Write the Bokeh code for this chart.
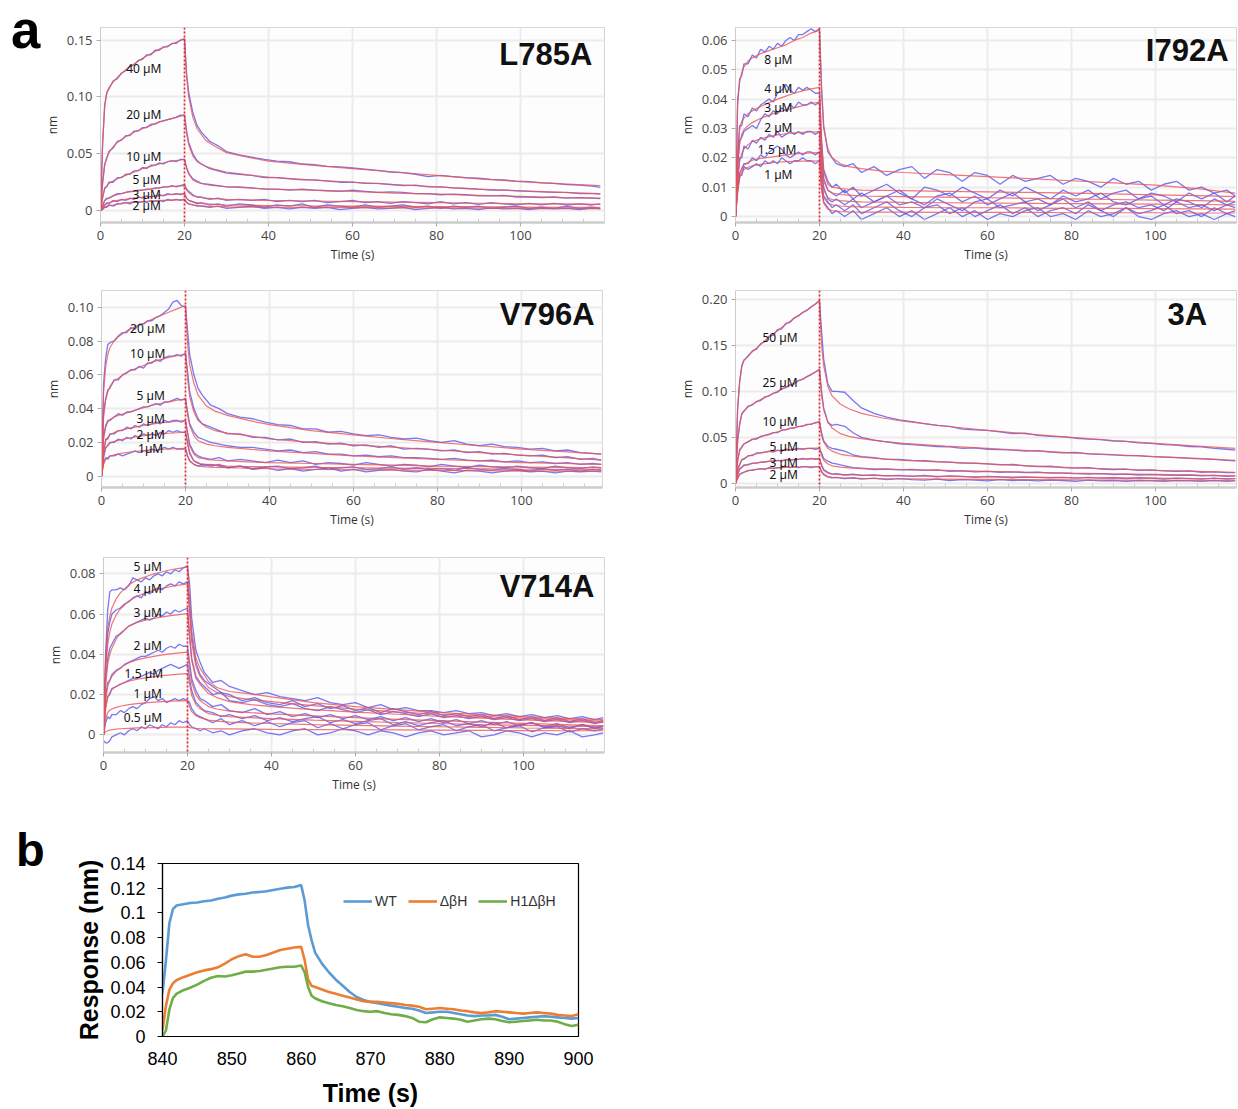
from bokeh.plotting import figure
from bokeh.layouts import column, row
from bokeh.models import Label, Span, FixedTicker, Legend, LegendItem, Range1d, Div
from bokeh.embed import file_html
from bokeh.resources import INLINE

# ---------------- time grids (s) ----------------
# fitted curves (red) sampling times
TR = [0, 0.5, 1, 1.5, 2, 3, 4, 6, 8, 10, 12, 14, 16, 18, 20,
      20.5, 21, 22, 23, 25, 27, 30, 35, 40, 50, 60, 70, 80, 90, 100, 110, 119]
# raw sensorgram (blue) sampling times
TB = [0, 0.5, 1, 1.5, 2, 3, 4, 5, 6, 7, 8, 9, 10, 11, 12, 13, 14, 15, 16, 17, 18, 19, 20,
      20.5, 21, 22, 23, 24, 26, 28, 30,
      33, 36, 39, 42, 45, 48, 51, 54, 57, 60,
      63, 66, 69, 72, 75, 78, 81, 84, 87, 90,
      93, 96, 99, 102, 105, 108, 111, 114, 117, 119]

# All responses below are in units of 0.001 nm
# ---------------- L785A ----------------
L785A_conc = ["40 µM", "20 µM", "10 µM", "5 µM", "3 µM", "2 µM"]
L785A_fit = [
    [0, 60, 92, 103, 108, 113, 117, 124, 129, 134, 138, 142, 145, 148, 151,
     118, 100, 82, 72, 62, 57, 51, 47, 43.5, 40, 37, 34, 31, 28, 25.5, 23.5, 22],
    [0, 25, 40, 47, 51, 56, 60, 65, 69, 72, 75, 78, 80, 82, 84,
     68, 58, 48, 43, 39, 36.5, 34, 31.5, 29.5, 27, 25, 23, 21, 19, 17.5, 16, 15],
    [0, 12, 19, 22, 24, 26, 28, 31, 34, 37, 39, 41, 43, 44, 45,
     37, 32, 27, 25, 23, 22, 21, 20, 19, 18, 17, 15.5, 14.5, 13.5, 12.5, 11.5, 11],
    [0, 5, 9, 10, 11, 13, 14, 16, 17, 18, 19, 20, 21, 21.5, 22,
     18, 16, 13, 12, 11, 10.5, 10, 9.5, 9, 8.5, 8, 7.5, 7, 6.5, 6, 6, 5.5],
    [0, 3, 5, 6, 7, 8, 9, 10, 11, 12, 12.5, 13, 14, 14.5, 15,
     11, 9, 7.5, 7, 6, 5.5, 5, 4.8, 4.5, 4.2, 4, 3.8, 3.6, 3.4, 3.2, 3, 3],
    [0, 2, 3, 4, 4.5, 5, 6, 7, 7.5, 8, 8.5, 9, 9, 9.5, 10,
     7.5, 6, 5, 4.5, 4, 3.7, 3.4, 3.2, 3, 2.8, 2.6, 2.5, 2.4, 2.2, 2.1, 2, 2],
]
L785A_raw = [
    [0, 58, 93, 104, 107, 114, 116, 121, 123, 127, 128, 132, 133, 137, 137, 141, 141, 144, 144, 147, 147, 150, 151,
     120, 104, 86, 75, 69, 61, 57, 52,
     49, 47, 45, 43.5, 43, 41, 40.5, 39, 38.5, 37.5,
     36.5, 35.5, 34, 33.5, 32, 30, 31, 30, 29, 28.5,
     27.5, 27, 26, 25.5, 24.5, 24, 23, 22.5, 21.5, 20.5],
    [0, 24, 41, 46, 52, 55, 61, 62, 66, 66, 70, 70, 73, 73, 76, 76, 78, 79, 80, 81, 82, 84, 84,
     70, 60, 50, 44, 41, 37, 35, 33,
     32, 31, 29, 29, 28, 27, 27, 26, 25, 25,
     24, 24, 23, 22, 22.5, 21, 21, 20, 19.5, 19,
     18, 18, 17.5, 17, 16.5, 16, 16, 15, 15, 14.5],
    [0, 11, 20, 21, 25, 25, 29, 29, 32, 32, 35, 35, 38, 37, 40, 40, 42, 41, 43, 44, 43, 45, 45,
     38, 33, 28, 26, 24, 23, 22, 21,
     21, 20, 19, 19, 18, 19, 18, 17.5, 17, 18,
     17, 16, 16.5, 16, 15, 15, 14, 14.5, 14, 13,
     13, 13.5, 12, 12, 11.5, 12, 11, 11.5, 11, 10.5],
    [0, 4, 9, 11, 11, 13, 15, 15, 16, 17, 17, 18, 18, 19, 19, 20, 20, 21, 21, 22, 21, 22, 23,
     19, 17, 14, 12, 12, 10, 11, 9,
     10, 9, 10, 8, 9, 8, 9, 7, 8, 9,
     7, 8, 6.5, 8, 7, 6, 8, 6, 7, 5.5,
     7, 6, 5, 6.5, 5, 6.5, 5, 6, 5, 6],
    [0, 2, 5, 7, 6, 9, 8, 10, 9, 11, 10, 12, 11, 13, 12, 13, 14, 13, 15, 14, 15, 14, 15,
     11, 9, 8, 6, 7, 5, 6, 4,
     6, 5, 3, 5, 4, 6, 3, 5, 4, 3,
     5, 3, 4, 5, 3, 4, 2, 4, 3, 4,
     2, 3, 4, 2, 3, 2, 4, 2, 3, 2],
    [0, 1, 3, 3, 5, 4, 6, 6, 7, 6, 8, 7, 8, 7, 9, 8, 9, 8, 10, 9, 10, 9, 10,
     7, 6, 5, 4, 4, 3, 4, 2,
     3, 4, 2, 3, 1.5, 3, 2, 3, 1, 2,
     3, 1.5, 2, 3, 1, 2, 3, 1.5, 2, 1,
     2.5, 1.5, 2, 1, 2, 1.5, 2, 1, 2, 1.5],
]

# ---------------- I792A ----------------
I792A_conc = ["8 µM", "4 µM", "3 µM", "2 µM", "1.5 µM", "1 µM"]
I792A_fit = [
    [0, 40, 46, 49, 51, 53, 54, 55.5, 56.5, 57.5, 58.5, 60, 61, 62.5, 63.5,
     42, 30, 23, 20, 18, 17, 16.3, 15.5, 15, 14.3, 13.6, 12.9, 12.2, 11.5, 10.7, 9.5, 8],
    [0, 22, 30, 32.5, 33.5, 35, 36, 37.5, 38.8, 40, 41, 42, 42.8, 43.5, 44,
     25, 15, 11, 10, 9.5, 9.3, 9, 8.9, 8.8, 8.6, 8.4, 8.2, 8, 7.7, 7.4, 7.1, 6.8],
    [0, 18, 25, 28, 29.5, 31, 32, 33.5, 34.5, 35.5, 36.3, 37, 37.8, 38.5, 39,
     20, 12, 9, 8, 7.5, 7.3, 7, 6.9, 6.8, 6.6, 6.4, 6.2, 6, 5.8, 5.6, 5.4, 5.2],
    [0, 13, 19, 21.5, 23, 24.5, 25.5, 26.5, 27.2, 27.8, 28.2, 28.5, 28.7, 28.8, 28.9,
     15, 9, 6.5, 5.8, 5.4, 5.2, 5, 4.9, 4.8, 4.7, 4.6, 4.5, 4.4, 4.3, 4.2, 4.1, 4],
    [0, 10, 14.5, 16.5, 17.5, 18.5, 19.2, 19.8, 20.2, 20.6, 21, 21.3, 21.5, 21.7, 21.8,
     11, 6.5, 4.5, 4, 3.6, 3.4, 3.3, 3.2, 3.1, 3, 3, 2.9, 2.8, 2.8, 2.7, 2.6, 2.5],
    [0, 9, 13, 15, 16, 16.8, 17.3, 17.8, 18.2, 18.5, 18.7, 18.8, 18.9, 18.9, 19,
     9, 4.5, 2.5, 2, 1.7, 1.6, 1.5, 1.5, 1.5, 1.4, 1.4, 1.4, 1.3, 1.3, 1.3, 1.2, 1.2],
]
I792A_raw = [
    [0, 38, 47, 48, 52, 52, 55, 54, 57, 56, 58, 57, 59, 58, 60, 61, 60, 62, 62, 63, 64, 63, 64,
     44, 31, 22, 20, 18, 17, 18, 15,
     17, 14, 16, 17, 13, 16, 15, 12, 15, 14,
     11, 14, 12, 13, 14, 11, 13, 12, 10, 13,
     11, 12, 9, 11, 12, 9, 10, 8, 9, 7],
    [0, 20, 31, 31, 35, 34, 37, 36, 38, 39, 40, 39, 42, 43, 45, 43, 42, 44, 43, 44, 43, 42, 42,
     26, 16, 12, 10, 11, 8, 10, 7,
     9, 11, 8, 6, 10, 9, 7, 10, 8, 6,
     9, 7, 10, 8, 6, 9, 7, 9, 6, 8,
     9, 6, 8, 7, 5, 8, 6, 8, 5, 7],
    [0, 16, 26, 27, 29, 30, 31, 30, 33, 35, 34, 36, 35, 37, 36, 38, 37, 39, 38, 38, 39, 38, 39,
     21, 13, 9, 8, 7, 9, 6, 8,
     5, 7, 9, 6, 4, 7, 8, 5, 7, 4,
     6, 8, 5, 6, 4, 7, 5, 6, 8, 5,
     4, 6, 7, 4, 6, 5, 3, 6, 4, 5],
    [0, 12, 20, 20, 24, 23, 26, 25, 27, 26, 28, 27, 29, 27, 28, 29, 28, 29, 28, 29, 29, 28, 29,
     16, 10, 6, 5, 6, 4, 6, 3,
     5, 7, 4, 5, 3, 6, 4, 2, 5, 6,
     3, 4, 5, 2, 4, 6, 3, 5, 2, 4,
     5, 3, 4, 2, 5, 3, 4, 2, 4, 3],
    [0, 9, 15, 16, 18, 18, 20, 19, 21, 20, 22, 23, 24, 23, 21, 20, 21, 22, 21, 22, 22, 21, 22,
     12, 7, 5, 3, 4, 2, 4, 1,
     3, 5, 2, 0, 3, 4, 1, 3, 0, 2,
     4, 1, 3, 0, 2, 3, 1, 4, 2, 0,
     3, 1, 2, 4, 1, 2, 0, 3, 1, 2],
    [0, 8, 14, 14, 17, 16, 17, 18, 17, 19, 18, 19, 18, 20, 19, 18, 19, 19, 20, 19, 19, 18, 19,
     10, 5, 3, 1, 2, 0, 2, -1,
     1, 3, 0, 2, -1, 1, 3, 0, 2, -1,
     1, 0, 2, 3, 0, 1, -1, 2, 0, 1,
     3, 0, -1, 1, 2, 0, 1, -1, 1, 0],
]

# ---------------- V796A ----------------
V796A_conc = ["20 µM", "10 µM", "5 µM", "3 µM", "2 µM", "1µM"]
V796A_fit = [
    [0, 50, 65, 72, 76, 80, 82.5, 86, 88.5, 90.5, 92.8, 95, 97, 99, 101,
     78, 66, 55, 48, 41.5, 38.5, 36, 33, 30.5, 27, 24.5, 22, 20, 18, 16, 14.5, 13],
    [0, 35, 45, 50, 53, 56.5, 58, 61.5, 63.5, 65.5, 67.5, 69, 70.3, 71.3, 72.3,
     58, 47, 38, 33, 29, 27, 25.5, 24, 22, 20, 18.5, 17, 15.5, 14, 12.5, 11, 9.5],
    [0, 22, 29, 32, 33.5, 35, 36, 37.5, 39, 40.5, 42, 43, 44, 45, 45.5,
     36, 30, 24, 21, 19, 18, 17, 16, 15, 13.5, 12, 11, 10, 9, 8, 7.5, 7],
    [0, 15, 21, 23, 24.5, 25.8, 26.8, 28, 29, 30, 30.8, 31.5, 32, 32.5, 33,
     25, 18, 13, 11, 10, 9.5, 9, 8.5, 8, 7.5, 7, 6.5, 6, 5.7, 5.4, 5.2, 5],
    [0, 12, 16.5, 18.5, 19.5, 20.5, 21.2, 22.3, 23.2, 24, 24.6, 25, 25.4, 25.7, 26,
     19, 13, 9, 7.5, 7, 6.5, 6, 5.7, 5.5, 5.2, 5, 4.8, 4.6, 4.4, 4.2, 4.1, 4],
    [0, 7, 10, 11, 11.8, 12.6, 13.2, 14, 14.6, 15.1, 15.5, 15.8, 16.1, 16.3, 16.5,
     12, 9, 7, 6, 5.5, 5.2, 5, 4.7, 4.4, 4, 3.8, 3.6, 3.4, 3.2, 3.1, 3, 3],
]
V796A_raw = [
    [0, 55, 70, 78, 79, 80, 83, 85, 85, 88, 87, 90, 90, 92, 92, 94, 95, 97, 99, 103, 104, 101, 100,
     86, 72, 60, 52, 48, 42, 40, 37,
     35, 34, 32, 30.5, 30, 28, 28, 26, 26.5, 25,
     24, 24.5, 23, 22, 22.5, 21, 20, 21, 19, 18,
     19, 17.5, 17, 16, 16.5, 15, 15.5, 14, 13.5, 13],
    [0, 38, 46, 51, 52, 57, 57, 60, 61, 63, 63, 65, 64, 67, 67, 69, 68, 70, 71, 71, 72, 71, 73,
     62, 50, 40, 34, 31, 29, 27, 25,
     25, 23, 23, 21.5, 22, 20, 20.5, 19, 19.5, 18,
     18.5, 17, 18, 16, 16.5, 16, 15, 15.5, 14, 14.5,
     13, 13.5, 12.5, 12, 12.5, 11, 11.5, 10, 10.5, 9.5],
    [0, 24, 30, 33, 33, 35, 37, 36, 38, 38, 39, 40, 41, 41, 42, 43, 42, 44, 44, 45, 46, 45, 46,
     38, 31, 26, 23, 22, 20, 19, 18,
     17, 17, 16, 15, 15.5, 14, 14.5, 13, 13, 12,
     12.5, 11.5, 12, 11, 11, 10.5, 10, 10.5, 9.5, 9,
     9.5, 8.5, 9, 8, 8.5, 7.5, 8, 7, 7.5, 7],
    [0, 14, 22, 22, 25, 25, 27, 27, 29, 28, 30, 29, 31, 30, 31, 32, 31, 33, 32, 33, 33, 32, 33,
     26, 19, 14, 12, 11, 10, 11, 9,
     10, 9, 8, 9.5, 8, 9, 7, 8, 7.5, 6.5,
     8, 7, 6, 7, 6.5, 5.5, 7, 6, 5, 6.5,
     5.5, 5, 6, 5, 4.5, 6, 5, 4.5, 5.5, 5],
    [0, 11, 17, 18, 20, 20, 22, 21, 23, 22, 24, 23, 25, 24, 25, 24, 26, 25, 27, 26, 27, 26, 26,
     20, 14, 9, 8, 6.5, 7, 6, 5,
     6, 4.5, 5.5, 6, 4.5, 5, 6, 4, 5, 5.5,
     4, 4.5, 5.5, 4, 5, 4, 4.5, 3.5, 5, 4,
     3.5, 4.5, 4, 3, 4.5, 3.5, 4, 3, 4, 3.5],
    [0, 8, 11, 10, 12, 12, 13, 12, 13, 14, 15, 14, 15, 15, 16, 15, 16, 17, 16, 17, 16, 16, 16,
     12, 9, 7, 6, 7, 6, 7, 5,
     6, 4, 5, 3.5, 4.5, 3, 4, 5, 3, 4,
     2.5, 3.5, 4, 3, 2.5, 4, 3, 2, 3.5, 3,
     2, 3, 3.5, 2.5, 3, 2, 3, 2.5, 3, 2.5],
]

# ---------------- 3A ----------------
A3_conc = ["50 µM", "25 µM", "10 µM", "5 µM", "3 µM", "2 µM"]
A3_fit = [
    [0, 80, 112, 127, 133, 139, 143, 151, 159, 166, 173, 179.5, 185.5, 191.5, 198,
     150, 128, 105, 95, 86, 81, 76, 71, 67.5, 62, 57.5, 53.5, 50, 46.5, 43.5, 40.5, 38],
    [0, 45, 65, 75, 79, 83, 86, 91, 95.5, 100, 104.5, 109, 113.5, 118.5, 123.5,
     95, 80, 67, 60, 54, 51, 48.5, 45.5, 43.5, 40.5, 38, 35.5, 33, 31, 29, 27, 25],
    [0, 25, 35, 40, 42.5, 45.5, 47.5, 50.5, 53.5, 56, 58.5, 60.5, 62.5, 64.5, 66.5,
     52, 45, 38, 35, 31.5, 30, 28.5, 26.5, 25, 23, 21, 19, 17, 15.5, 14, 13, 12],
    [0, 14, 21, 25, 27, 29.5, 31, 33, 34.5, 35.5, 36.3, 37, 37.5, 38, 38.5,
     30, 25, 21, 19, 17.5, 16.8, 16, 15.4, 15, 14, 13, 12, 11, 10.3, 9.6, 8.8, 8],
    [0, 10, 15, 17.5, 19, 20.5, 21.5, 22.8, 23.8, 24.6, 25.3, 25.8, 26.2, 26.5, 26.8,
     19, 14, 11, 10, 9.5, 9.2, 8.8, 8.4, 8, 7.5, 7, 6.5, 6.1, 5.8, 5.5, 5.2, 5],
    [0, 6, 9.5, 11, 12, 13.5, 14.5, 15.5, 16.3, 16.8, 17.2, 17.5, 17.7, 17.8, 17.9,
     12, 9, 7, 6.5, 6, 5.7, 5.4, 5.1, 4.9, 4.5, 4.2, 3.9, 3.6, 3.4, 3.2, 3.1, 3],
]
A3_raw = [
    [0, 82, 110, 128, 134, 138, 144, 146, 152, 154, 160, 161, 167, 168, 174, 175, 180, 182, 186, 188, 192, 195, 199,
     165, 135, 108, 100, 100, 99, 90, 82,
     76, 72, 69, 67, 65, 63, 62, 59, 58, 57.5,
     56, 54, 54.5, 52, 51, 50.5, 49, 48, 47.5, 46,
     45.5, 44, 43.5, 42, 41.5, 40, 39.5, 38, 37, 36],
    [0, 47, 64, 76, 78, 84, 85, 89, 90, 94, 95, 98, 99, 103, 104, 107, 108, 112, 113, 116, 118, 121, 124,
     100, 82, 66, 63, 64, 62, 55, 50,
     47, 45, 43, 42, 41, 40, 39.5, 38, 38.5, 37,
     36.5, 36, 35, 35.5, 34, 33, 33.5, 32, 31.5, 31,
     30, 30, 29, 28.5, 28, 27, 26.5, 26, 25, 24.5],
    [0, 24, 37, 39, 43, 45, 48, 48, 51, 52, 53, 55, 55, 58, 58, 60, 60, 62, 62, 64, 64, 66, 67,
     55, 46, 40, 38, 37, 35, 31, 29,
     28, 26, 26, 25, 24.5, 23.5, 23, 22, 22, 21,
     20, 20.5, 19, 18, 18.5, 17, 16.5, 17, 15.5, 15,
     15.5, 14, 14.5, 13.5, 13, 13.5, 12, 12.5, 11.5, 11.5],
    [0, 15, 20, 26, 26, 30, 30, 33, 33, 34, 35, 34, 36, 35, 37, 36, 37, 38, 37, 38, 38, 37, 38,
     33, 27, 24, 22, 21, 19, 17, 16.5,
     15, 15.5, 14.5, 15, 14, 14.5, 13, 13.5, 12.5, 13,
     12, 12.5, 11.5, 12, 11, 11, 10.5, 10, 10.5, 9.5,
     10, 9, 9.5, 9, 8.5, 9, 8, 8.5, 7.5, 8],
    [0, 9, 16, 17, 20, 20, 22, 22, 23, 23, 24, 24, 25, 24, 26, 25, 26, 26, 27, 26, 27, 26, 27,
     20, 15, 12, 10, 10.5, 9, 10, 8.5,
     9, 8, 8.5, 7.5, 8.5, 7, 8, 7.5, 6.5, 7.5,
     7, 6, 7, 6.5, 6, 6.5, 5.5, 6.5, 5.5, 6,
     5, 6, 5.5, 4.5, 5.5, 5, 4.5, 5.5, 4.5, 5],
    [0, 5, 10, 11, 12, 14, 14, 15, 16, 15, 17, 16, 17, 17, 18, 17, 18, 17, 18, 18, 17, 18, 18,
     13, 10, 7, 6, 6.5, 5, 6, 4.5,
     5.5, 4, 5, 4, 3.5, 4.5, 3, 4, 3.5, 2.5,
     4, 3, 3.5, 2.5, 3.5, 3, 2, 3.5, 2.5, 3,
     2, 3, 2.5, 2, 3, 2.5, 2, 3, 2, 2.5],
]

# ---------------- V714A ----------------
V714A_conc = ["5 µM", "4 µM", "3 µM", "2 µM", "1.5 µM", "1 µM", "0.5 µM"]
V714A_fit = [
    [0, 38, 53, 59, 63, 67.5, 70.5, 74.5, 77, 78.5, 80, 81, 82, 82.7, 83.3,
     68, 52, 38, 33, 26.5, 23.5, 21.5, 20.3, 18.8, 16, 14, 12.5, 11, 10, 9, 8.2, 7.5],
    [0, 32, 45, 51, 55, 59.5, 62.5, 66.5, 68.8, 70.5, 71.8, 72.8, 73.7, 74.4, 75,
     60, 46, 34, 29, 23.5, 21, 19, 17.5, 16.5, 14.5, 12.8, 11.4, 10.2, 9.2, 8.3, 7.5, 6.8],
    [0, 24, 35, 40, 43, 47.5, 50.5, 54, 55.8, 57, 57.8, 58.6, 59.2, 59.7, 60.2,
     48, 37, 28, 25, 20.5, 18.5, 16.5, 15, 14, 12.5, 11.3, 10.2, 9.2, 8.3, 7.4, 6.7, 6],
    [0, 17, 24, 27, 29, 31.5, 33.3, 35.8, 37.2, 38.2, 39, 39.7, 40.2, 40.7, 41.1,
     33, 26, 20, 17, 14, 12.8, 11.8, 11, 10.4, 9.4, 8.5, 7.7, 7, 6.3, 5.7, 5.1, 4.5],
    [0, 13, 18.5, 21, 22.5, 24, 25.2, 26.7, 27.6, 28.3, 28.9, 29.4, 29.8, 30.1, 30.4,
     25, 19.5, 15, 13, 10.5, 9.7, 9, 8.5, 8, 7.3, 6.7, 6.1, 5.6, 5.1, 4.7, 4.3, 4],
    [0, 8, 11, 12.2, 12.8, 13.6, 14.2, 15, 15.5, 15.9, 16.2, 16.5, 16.7, 16.9, 17,
     14, 11.5, 9.5, 8.5, 7.3, 6.8, 6.3, 5.9, 5.6, 5.1, 4.7, 4.3, 4, 3.7, 3.4, 3.2, 3],
    [0, 1.5, 2, 2.3, 2.5, 2.8, 3, 3.2, 3.4, 3.5, 3.6, 3.7, 3.8, 3.8, 3.8,
     3.6, 3.4, 3.2, 3.1, 3, 2.9, 2.9, 2.8, 2.7, 2.6, 2.5, 2.4, 2.3, 2.2, 2.1, 2, 2],
]
V714A_raw = [
    [0, 40, 62, 71, 72, 72, 73, 72, 74, 78, 77, 76, 78, 77, 79, 80, 79, 81, 80, 82, 81, 83, 84,
     75, 58, 42, 36, 31, 26, 27, 24,
     22, 20, 21, 19, 18, 17, 18.5, 16, 15, 16,
     13.5, 15, 12.5, 13.5, 12, 12, 11, 12, 10.5, 11,
     9.5, 10.5, 9, 10, 8.5, 9.5, 8, 9, 7.5, 8.5],
    [0, 34, 50, 56, 60, 62, 63, 65, 66, 68, 69, 68, 71, 70, 72, 73, 72, 74, 75, 74, 76, 75, 76,
     64, 49, 36, 30, 27, 24, 21, 20,
     17, 18.5, 16, 15, 17, 14, 15.5, 13, 14.5, 12,
     13.5, 11, 13, 11.5, 10, 11.5, 9.5, 10.5, 9, 10,
     8, 9.5, 7.5, 9, 7, 8.5, 6.5, 8, 6, 7],
    [0, 28, 38, 43, 45, 49, 50, 52, 54, 55, 56, 57, 58, 57, 58, 60, 59, 61, 60, 62, 61, 62, 63,
     50, 38, 29, 26, 24, 20, 21, 17,
     16, 17.5, 15, 14, 15.5, 13, 12, 14, 12.5, 11,
     12.5, 10, 11.5, 10.5, 9, 10.5, 8.5, 9.5, 8, 9,
     7.5, 8.5, 7, 8, 6.5, 7.5, 6, 7, 5.5, 6.5],
    [0, 19, 26, 27, 30, 32, 33, 35, 36, 37, 38, 39, 39, 40, 41, 42, 41, 43, 44, 43, 45, 44, 44,
     36, 28, 22, 18, 17, 14, 15, 12,
     11, 13, 10, 11.5, 9, 10.5, 8.5, 10, 8, 9.5,
     7.5, 9, 7, 8.5, 6.5, 8, 6, 7.5, 5.5, 7,
     5, 6.5, 4.5, 6, 4, 5.5, 3.5, 5, 3.5, 4.5],
    [0, 14, 19, 20, 23, 24, 25, 26, 27, 28, 28, 29, 30, 31, 30, 32, 33, 34, 35, 34, 33, 34, 35,
     28, 22, 16, 14, 12, 11, 9, 10,
     8, 9.5, 7, 8.5, 6.5, 8, 9, 6, 7.5, 5.5,
     7, 8, 5, 6.5, 4.5, 6, 7, 4.5, 5.5, 4,
     6, 3.5, 5, 6, 3.5, 4.5, 3, 5, 3, 4],
    [0, 6, 9, 8, 10, 10, 12, 11, 13, 14, 13, 15, 16, 18, 19, 17, 18, 16, 17, 18, 17, 18, 17,
     16, 13, 10, 9, 8, 6, 8, 5,
     7, 4.5, 6.5, 4, 6, 7, 3.5, 5.5, 3, 5,
     6, 2.5, 4.5, 5.5, 2.5, 4, 5, 2, 4, 5,
     2, 3.5, 4.5, 1.5, 3.5, 4, 1.5, 3, 2, 3],
    [-3, -4, -4, -3, -1, 0, 1, 0, 2, 3, 2, 4, 3, 5, 4, 3, 5, 4, 6, 5, 7, 6, 7,
     5, 4, 3, 2, 3, 1, 2, 0,
     2, 3, 1, 0, 2, 3, 0, 1, 3, 2,
     0, 2, 1, -1, 1, 2, 0, 1, 2, -1,
     0, 2, 1, -1, 1, 0, 2, -1, 0, 1],
]

# ---------------- panel b ----------------
B_time = [840, 840.5, 841, 841.5, 842, 843, 844, 845, 846, 847, 848, 849, 850, 851, 852, 853, 854,
          855, 856, 857, 858, 859, 860, 860.5, 861, 861.5, 862, 863, 864, 865, 866, 867, 868, 869,
          870, 871, 872, 873, 874, 875, 876, 877, 878, 879, 880, 881, 882, 883, 884, 885, 886, 887,
          888, 889, 890, 891, 892, 893, 894, 895, 896, 897, 898, 899, 900]
B_series = ["WT", "ΔβH", "H1ΔβH"]
B_WT = [35, 62, 92, 103, 106, 107, 108, 108.5, 109.5, 110, 111.5, 112.5, 114, 115, 115.5, 116.5, 117,
        117.5, 118.5, 119.5, 120.5, 121, 122.5,
        110, 90, 78, 68, 59, 52, 46, 41, 36, 32, 29.5, 28,
        27, 26, 25, 24, 23, 22.5, 21, 19, 19.5, 20,
        20, 19, 18, 17, 16.5, 17, 17, 17.5, 16, 14,
        14.5, 15, 15.5, 16, 16.5, 16, 15.5, 15, 14.5, 15]
B_dBH = [5, 25, 38, 43, 45.5, 48, 50, 52, 53.5, 54.5, 56, 59, 62.5, 65, 66.5, 64.5, 64.5,
         66, 68, 70, 71, 72, 72.5,
         62, 46, 41, 40, 38, 36, 34.5, 33, 31.5, 30, 28.5, 28,
         28, 27.5, 27, 26.5, 25.5, 25, 24, 22, 22.5, 23,
         22.5, 22, 21, 20.5, 19.5, 19, 19.5, 20.5, 20, 19.5,
         19, 18.5, 19, 19.5, 19, 18.5, 17.5, 17, 16.5, 18]
B_H1dBH = [0, 5, 22, 31, 34.5, 37.5, 39.5, 42, 45, 47.5, 49, 48.5, 49.5, 51, 52.5, 52.5, 53,
           54, 55, 56, 56.5, 56.5, 57.5,
           52, 40, 33, 31, 28.5, 27, 25.5, 24.5, 23, 21.5, 20.5, 20,
           20.5, 19, 18, 17.5, 16.5, 15, 12, 11.5, 14, 15.5,
           15, 14.5, 13.5, 12, 13, 14, 14.5, 14, 12.5, 11.5,
           12, 12.5, 13, 13.5, 13, 13, 12, 10, 8.5, 9.5]

# ---------------- styling ----------------
BLUE = "#5656ee"
RED = "#ee5252"
XT = [0, 20, 40, 60, 80, 100]
XMINOR = [5, 10, 15, 25, 30, 35, 45, 50, 55, 65, 70, 75, 85, 90, 95, 105, 110, 115]
TICK_FONT = "Open Sans"


def sensor_panel(conc, fit, raw, lay):
    p = figure(width=lay["w"], height=lay["h"],
               x_range=Range1d(0, lay["xmax"]), y_range=Range1d(lay["y0"], lay["y1"]),
               output_backend="svg", toolbar_location=None,
               min_border_left=lay["bl"], min_border_right=lay["br"],
               min_border_top=lay["bt"], min_border_bottom=lay["bb"])
    p.background_fill_color = "#fdfdfd"
    p.border_fill_color = "white"
    p.outline_line_color = "#d6d6d6"
    p.xaxis.ticker = FixedTicker(ticks=XT, minor_ticks=XMINOR)
    p.xgrid.ticker = FixedTicker(ticks=XT)
    p.yaxis.ticker = FixedTicker(ticks=lay["yt"])
    p.ygrid.ticker = FixedTicker(ticks=lay["yt"])
    p.yaxis.major_label_overrides = {t: s for t, s in zip(lay["yt"], lay["yl"])}
    for g in (p.xgrid, p.ygrid):
        g.grid_line_color = "#ececec"
        g.grid_line_width = 2
    for ax in (p.xaxis, p.yaxis):
        ax.axis_line_color = "#cccccc"
        ax.major_tick_line_color = "#aaaaaa"
        ax.minor_tick_line_color = "#cccccc"
        ax.major_tick_out = 4
        ax.major_tick_in = 0
        ax.major_label_text_font = TICK_FONT
        ax.major_label_text_font_size = "13px"
        ax.major_label_text_color = "#454545"
        ax.axis_label_text_font = TICK_FONT
        ax.axis_label_text_font_size = "12px"
        ax.axis_label_text_font_style = "normal"
        ax.axis_label_text_color = "#333333"
        ax.axis_label_standoff = 3
        ax.major_label_standoff = 4
    p.xaxis.axis_line_width = 2.5
    p.xaxis.minor_tick_in = 4
    p.xaxis.minor_tick_out = 0
    p.yaxis.minor_tick_line_color = None
    p.xaxis.axis_label = "Time (s)"
    p.yaxis.axis_label = "nm"

    for ys in raw:
        n = min(len(TB), len(ys))
        p.line(TB[:n], [v / 1000 for v in ys[:n]], line_color=BLUE, line_width=1.3, line_alpha=0.8)
    for ys in fit:
        n = min(len(TR), len(ys))
        p.line(TR[:n], [v / 1000 for v in ys[:n]], line_color=RED, line_width=1.2, line_alpha=0.8)

    p.add_layout(Span(location=20, dimension="height", line_color="#e3262a",
                      line_dash="2 2", line_width=1.6))

    for c, (lx, ly) in zip(conc, lay["lab"]):
        p.add_layout(Label(x=lx, y=ly, text=c, text_align="center", text_baseline="middle",
                           text_font="Noto Sans", text_font_size="12px", text_color="#111111"))
    tx, ty = lay["title_xy"]
    p.add_layout(Label(x=tx, y=ty, text=lay["title"], text_align="right", text_baseline="middle",
                       text_font="Liberation Sans", text_font_style="bold",
                       text_font_size="31px", text_color="#111111"))
    return p


LAY = {
    "L785A": dict(w=580, h=275, bl=60, br=16, bt=25, bb=53, xmax=120, y0=-0.0104, y1=0.161,
                  yt=[0, 0.05, 0.10, 0.15], yl=["0", "0.05", "0.10", "0.15"],
                  lab=[(10.3, 0.1246), (10.3, 0.0846), (10.3, 0.048), (11.0, 0.0275),
                       (11.0, 0.0145), (11.0, 0.0043)],
                  title="L785A", title_xy=(117.1, 0.137)),
    "I792A": dict(w=618, h=275, bl=115, br=2, bt=27, bb=52, xmax=119.3, y0=-0.00203, y1=0.0644,
                  yt=[0, 0.01, 0.02, 0.03, 0.04, 0.05, 0.06],
                  yl=["0", "0.01", "0.02", "0.03", "0.04", "0.05", "0.06"],
                  lab=[(10.2, 0.0536), (10.2, 0.0437), (10.2, 0.0373), (10.2, 0.0305),
                       (9.9, 0.0227), (10.2, 0.0142)],
                  title="I792A", title_xy=(117.4, 0.0566)),
    "V796A": dict(w=620, h=265, bl=101, br=18, bt=15, bb=53, xmax=119.3, y0=-0.0067, y1=0.1099,
                  yt=[0, 0.02, 0.04, 0.06, 0.08, 0.10],
                  yl=["0", "0.02", "0.04", "0.06", "0.08", "0.10"],
                  lab=[(11.0, 0.0874), (11.0, 0.0728), (11.7, 0.0478), (11.7, 0.034),
                       (11.7, 0.0247), (11.7, 0.0162)],
                  title="V796A", title_xy=(117.4, 0.0957)),
    "3A": dict(w=618, h=265, bl=115, br=2, bt=15, bb=49, xmax=119.3, y0=-0.0046, y1=0.2097,
               yt=[0, 0.05, 0.10, 0.15, 0.20], yl=["0", "0.05", "0.10", "0.15", "0.20"],
               lab=[(10.6, 0.159), (10.6, 0.1095), (10.6, 0.0676), (11.5, 0.040),
                    (11.5, 0.023), (11.5, 0.0096)],
               title="3A", title_xy=(112.3, 0.184)),
    "V714A": dict(w=620, h=265, bl=103, br=16, bt=17, bb=53, xmax=119.3, y0=-0.0088, y1=0.0881,
                  yt=[0, 0.02, 0.04, 0.06, 0.08], yl=["0", "0.02", "0.04", "0.06", "0.08"],
                  lab=[(10.5, 0.0838), (10.5, 0.0726), (10.5, 0.061), (10.5, 0.0444),
                       (9.6, 0.0303), (10.5, 0.0204), (9.4, 0.0088)],
                  title="V714A", title_xy=(116.9, 0.0737)),
}

p1 = sensor_panel(L785A_conc, L785A_fit, L785A_raw, LAY["L785A"])
p2 = sensor_panel(I792A_conc, I792A_fit, I792A_raw, LAY["I792A"])
p3 = sensor_panel(V796A_conc, V796A_fit, V796A_raw, LAY["V796A"])
p4 = sensor_panel(A3_conc, A3_fit, A3_raw, LAY["3A"])
p5 = sensor_panel(V714A_conc, V714A_fit, V714A_raw, LAY["V714A"])

div_a = Div(text='<div style="font: bold 53px/60px \'Liberation Sans\', Arial, sans-serif; '
                 'color:#000; margin:0 0 0 11px;">a</div>', width=40, height=275, margin=0)

# ---------------- panel b figure ----------------
pb = figure(width=538, height=304, x_range=Range1d(840, 900), y_range=Range1d(0, 0.14),
            output_backend="svg", toolbar_location=None,
            min_border_left=102, min_border_right=20, min_border_top=58, min_border_bottom=69)
pb.grid.visible = False
pb.outline_line_color = "black"
pb.outline_line_width = 1.2
pb.xaxis.ticker = FixedTicker(ticks=[840, 850, 860, 870, 880, 890, 900])
BY = [0, 0.02, 0.04, 0.06, 0.08, 0.10, 0.12, 0.14]
BYL = ["0", "0.02", "0.04", "0.06", "0.08", "0.1", "0.12", "0.14"]
pb.yaxis.ticker = FixedTicker(ticks=BY)
pb.yaxis.major_label_overrides = {t: s for t, s in zip(BY, BYL)}
for ax in (pb.xaxis, pb.yaxis):
    ax.axis_line_color = "black"
    ax.axis_line_width = 1.2
    ax.major_tick_line_color = "black"
    ax.minor_tick_line_color = None
    ax.major_tick_in = 0
    ax.major_label_text_font = "Liberation Sans"
    ax.major_label_text_font_size = "18px"
    ax.major_label_text_color = "black"
    ax.axis_label_text_font = "Liberation Sans"
    ax.axis_label_text_font_style = "bold"
    ax.axis_label_text_font_size = "25px"
    ax.axis_label_text_color = "black"
pb.yaxis.major_tick_out = 5
pb.yaxis.major_label_standoff = 12
pb.yaxis.axis_label_standoff = 4
pb.xaxis.major_tick_out = 0
pb.xaxis.major_label_standoff = 15
pb.xaxis.axis_label_standoff = 11
pb.xaxis.axis_label = "Time (s)"
pb.yaxis.axis_label = "Response (nm)"

items = []
for name, ys, col in zip(B_series, [B_WT, B_dBH, B_H1dBH], ["#5b9bd5", "#ed7d31", "#70ad47"]):
    n = min(len(B_time), len(ys))
    r = pb.line(B_time[:n], [v / 1000 for v in ys[:n]], line_color=col, line_width=2.6)
    items.append(LegendItem(label=name, renderers=[r]))
leg = Legend(items=items, orientation="horizontal", location=(181, 127),
             glyph_width=29, glyph_height=16, label_standoff=3, spacing=11, padding=0, margin=0,
             label_text_font="Liberation Sans", label_text_font_size="14px",
             label_text_color="#333333", background_fill_alpha=0, border_line_color=None)
pb.add_layout(leg, "center")

div_b = Div(text='<div style="font: bold 47px/47px \'Liberation Sans\', Arial, sans-serif; '
                 'color:#000; margin:21px 0 0 16px;">b</div>', width=60, height=304, margin=0)

layout = column(row(div_a, p1, p2), row(p3, p4), row(p5), row(div_b, pb))
open("out.html", "w").write(file_html(layout, INLINE))
